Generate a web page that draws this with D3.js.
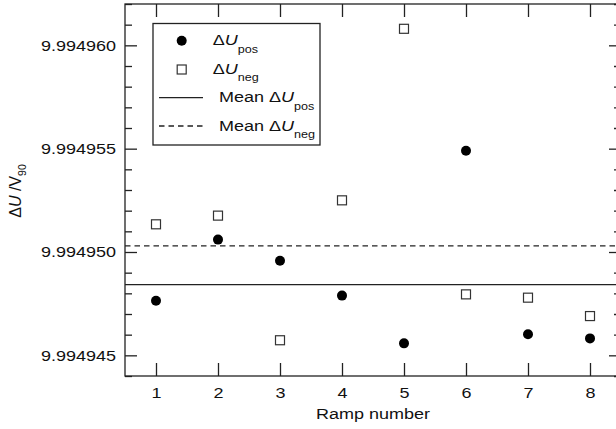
<!DOCTYPE html>
<html>
<head>
<meta charset="utf-8">
<script src="https://cdn.jsdelivr.net/npm/d3@7"></script>
<style>
body { margin: 0; background: #fff; }
text { font-family: "Liberation Sans", Arial, sans-serif; fill: #111; }
</style>
</head>
<body>
<div id="chart"></div>
<script>
// size of SVG
var w = 616;
var h = 429;
// plot box (the right edge lies just outside the picture)
var pLeft = 125, pRight = 621, pTop = 4, pBottom = 376;
// text is drawn a little wide, as in the original
var sx = 1.2;

// ramp numbers
var ramps = [1, 2, 3, 4, 5, 6, 7, 8];
// ΔU/V90 for positive and negative ramps
var posValues = [9.99494764, 9.99495060, 9.99494958, 9.99494789, 9.99494558, 9.99495490, 9.99494602, 9.99494582];
var negValues = [9.99495134, 9.99495176, 9.99494573, 9.99495250, 9.99496080, 9.99494795, 9.99494779, 9.99494690];
// means
var meanPos = 9.99494842;
var meanNeg = 9.99495030;
// ticks
var yMajor = [9.994945, 9.994950, 9.994955, 9.994960];
var yMajorLabels = ["9.994945", "9.994950", "9.994955", "9.994960"];
var yMinor = [9.994944, 9.994946, 9.994947, 9.994948, 9.994949, 9.994951, 9.994952, 9.994953, 9.994954,
              9.994956, 9.994957, 9.994958, 9.994959, 9.994961, 9.994962];

var svg = d3.select("#chart")
  .append("svg")
  .attr("width", w)
  .attr("height", h);

var x = d3.scaleLinear().domain([0.5, 8.5]).range([pLeft, pRight]);
var y = d3.scaleLinear().domain([9.994944, 9.994962]).range([pBottom, pTop]);

function clean(g) {
  g.select(".domain").remove();
  g.selectAll("line").attr("stroke", "#222").attr("stroke-width", 1.3);
}

// bottom axis with labels
svg.append("g")
  .attr("transform", "translate(0," + pBottom + ")")
  .call(d3.axisBottom(x).tickValues(ramps).tickFormat(d3.format("d")).tickSize(-13).tickSizeOuter(0).tickPadding(11))
  .call(clean)
  .call(function(g) {
    g.selectAll("text").attr("font-size", 15).attr("font-family", null).attr("fill", "#111")
      .attr("transform", "scale(" + sx + ",1)");
  });
// top axis, ticks only
svg.append("g")
  .attr("transform", "translate(0," + pTop + ")")
  .call(d3.axisTop(x).tickValues(ramps).tickFormat("").tickSize(-13).tickSizeOuter(0))
  .call(clean);

// left axis
svg.append("g")
  .attr("transform", "translate(" + pLeft + ",0)")
  .call(d3.axisLeft(y).tickValues(yMajor).tickFormat(function(d, i) { return yMajorLabels[i]; })
    .tickSize(-12).tickSizeOuter(0).tickPadding(9))
  .call(clean)
  .call(function(g) {
    g.selectAll("text").attr("font-size", 15).attr("font-family", null).attr("fill", "#111")
      .attr("x", -9 / sx)
      .attr("transform", "scale(" + sx + ",1)");
  });
svg.append("g")
  .attr("transform", "translate(" + pLeft + ",0)")
  .call(d3.axisLeft(y).tickValues(yMinor).tickFormat("").tickSize(-7).tickSizeOuter(0))
  .call(clean);
// right axis
svg.append("g")
  .attr("transform", "translate(" + pRight + ",0)")
  .call(d3.axisRight(y).tickValues(yMajor).tickFormat("").tickSize(-12).tickSizeOuter(0))
  .call(clean);
svg.append("g")
  .attr("transform", "translate(" + pRight + ",0)")
  .call(d3.axisRight(y).tickValues(yMinor).tickFormat("").tickSize(-7).tickSizeOuter(0))
  .call(clean);

// frame
svg.append("rect")
  .attr("x", pLeft).attr("y", pTop)
  .attr("width", pRight - pLeft).attr("height", pBottom - pTop)
  .attr("fill", "none").attr("stroke", "#222").attr("stroke-width", 1.3);

// mean lines
svg.append("line")
  .attr("x1", pLeft).attr("x2", pRight)
  .attr("y1", y(meanPos)).attr("y2", y(meanPos))
  .attr("stroke", "#222").attr("stroke-width", 1.3);
svg.append("line")
  .attr("x1", pLeft).attr("x2", pRight)
  .attr("y1", y(meanNeg)).attr("y2", y(meanNeg))
  .attr("stroke", "#222").attr("stroke-width", 1.3)
  .attr("stroke-dasharray", "5.5,4");

// points
svg.selectAll(".neg").data(negValues).enter().append("rect")
  .attr("class", "neg")
  .attr("x", function(d, i) { return x(ramps[i]) - 4.5; })
  .attr("y", function(d) { return y(d) - 4.5; })
  .attr("width", 9).attr("height", 9)
  .attr("fill", "#fff").attr("stroke", "#333").attr("stroke-width", 1.2);
svg.selectAll(".pos").data(posValues).enter().append("circle")
  .attr("class", "pos")
  .attr("cx", function(d, i) { return x(ramps[i]); })
  .attr("cy", function(d) { return y(d); })
  .attr("r", 5)
  .attr("fill", "#000");

// axis titles
svg.append("text")
  .attr("font-size", 15)
  .attr("text-anchor", "middle")
  .attr("transform", "scale(" + sx + ",1) translate(" + (373 / sx) + ",419)")
  .text("Ramp number");

var yl = svg.append("text")
  .attr("transform", "translate(21,191) rotate(-90)")
  .attr("font-size", 16)
  .attr("text-anchor", "middle");
yl.append("tspan").text("\u0394");
yl.append("tspan").attr("font-style", "italic").text("U");
yl.append("tspan").text(" /V");
yl.append("tspan").attr("font-size", 10.5).attr("dy", 5).text("90");

// legend
var lg = svg.append("g");
lg.append("rect")
  .attr("x", 153).attr("y", 23.5)
  .attr("width", 167).attr("height", 121.5)
  .attr("fill", "#fff").attr("stroke", "#222").attr("stroke-width", 1.3);

var legendRows = [
  { label: "", sub: "pos", y: 45 },
  { label: "", sub: "neg", y: 73.5 },
  { label: "Mean ", sub: "pos", y: 102 },
  { label: "Mean ", sub: "neg", y: 130.5 }
];

lg.append("circle").attr("cx", 181.7).attr("cy", 40.7).attr("r", 5).attr("fill", "#000");
lg.append("rect").attr("x", 177.2).attr("y", 65)
  .attr("width", 9).attr("height", 9)
  .attr("fill", "#fff").attr("stroke", "#333").attr("stroke-width", 1.2);
lg.append("line").attr("x1", 159).attr("x2", 203).attr("y1", 97.7).attr("y2", 97.7)
  .attr("stroke", "#222").attr("stroke-width", 1.3);
lg.append("line").attr("x1", 159).attr("x2", 203).attr("y1", 126).attr("y2", 126)
  .attr("stroke", "#222").attr("stroke-width", 1.3).attr("stroke-dasharray", "5.5,4");

legendRows.forEach(function(r) {
  var tx = r.label ? 219 : 212.7;
  var t = lg.append("text")
    .attr("transform", "translate(" + tx + "," + r.y + ") scale(" + sx + ",1)")
    .attr("font-size", 15);
  if (r.label) t.append("tspan").text(r.label);
  t.append("tspan").text("\u0394");
  t.append("tspan").attr("font-style", "italic").text("U");
  t.append("tspan").attr("font-size", 10.5).attr("dy", 7.5).text(r.sub);
});
</script>
</body>
</html>
